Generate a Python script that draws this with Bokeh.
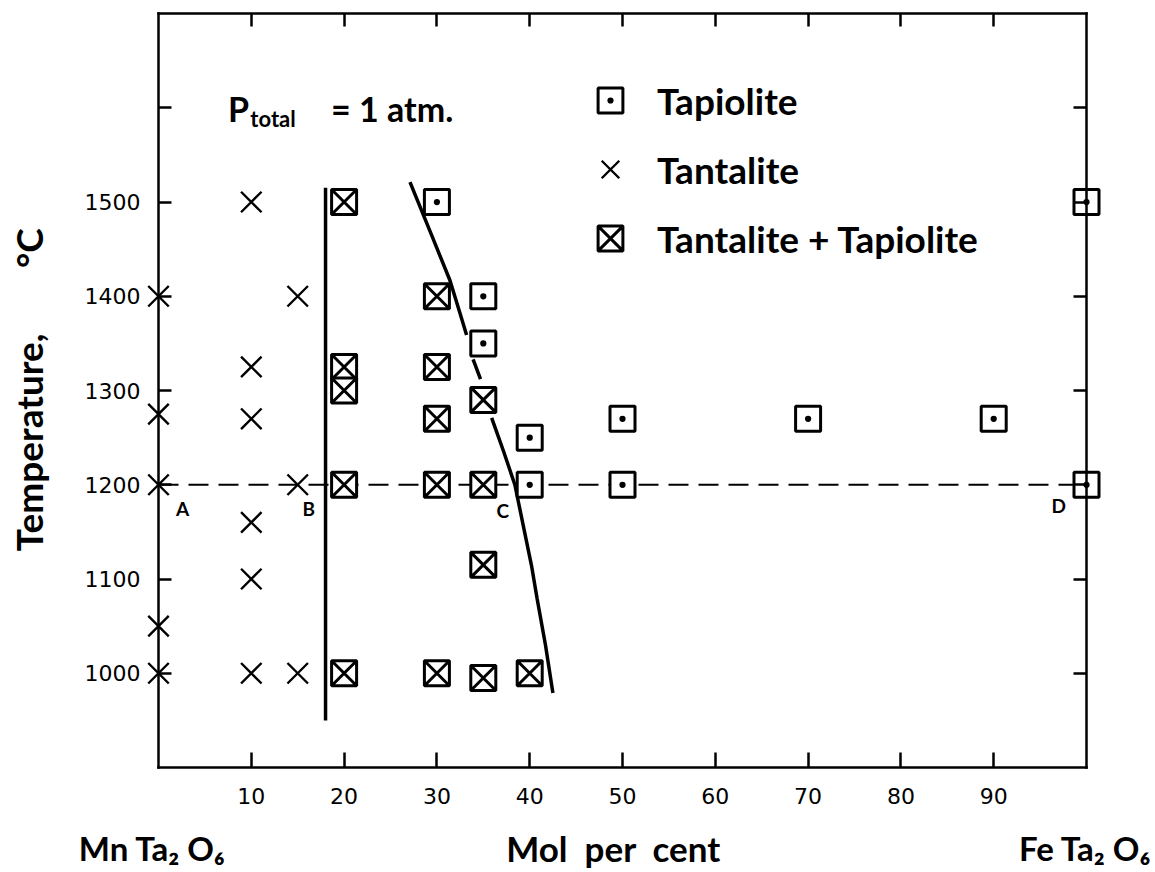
import math
from bokeh.plotting import figure
from bokeh.models import Range1d, LinearAxis, FixedTicker, Label, Legend, LegendItem
from bokeh.embed import file_html
from bokeh.resources import INLINE

FONT = "Lato"
TICK_FONT = "DejaVu Sans"
nan = float("nan")

# ---- data ----
tantalite_x = [0, 0, 0, 0, 0, 10, 10, 10, 10, 10, 10, 15, 15, 15]
tantalite_y = [1400, 1275, 1200, 1050, 1000, 1500, 1325, 1270, 1160, 1100, 1000, 1400, 1200, 1000]

tapiolite_x = [30, 35, 35, 40, 40, 50, 50, 70, 90, 100, 100]
tapiolite_y = [1500, 1400, 1350, 1250, 1200, 1270, 1200, 1270, 1270, 1500, 1200]

mixed_x = [20, 20, 20, 20, 20, 30, 30, 30, 30, 30, 35, 35, 35, 35, 40]
mixed_y = [1500, 1325, 1300, 1200, 1000, 1400, 1325, 1270, 1200, 1000, 1290, 1200, 1115, 995, 1000]

boundary_b_x = [18, 18]
boundary_b_y = [950, 1515]

boundary_c_x = [27.1, 29.3, 31.4, 32.3, 33.2, nan, 33.9, 34.7, nan, 35.9, 37.2, 38.4, 40.2, 40.8, 41.7, 42.5]
boundary_c_y = [1521, 1468, 1417, 1388, 1359, nan, 1333, 1312, nan, 1271, 1235, 1200, 1114, 1079, 1030, 979]

isotherm_x = [0, 99]
isotherm_y = [1200, 1200]

point_names = ["A", "B", "C", "D"]
point_x = [2.6, 16.2, 37.1, 97.0]
point_y = [1175, 1175, 1173, 1178]

x_ticks = [10, 20, 30, 40, 50, 60, 70, 80, 90]
y_ticks = [1000, 1100, 1200, 1300, 1400, 1500, 1600]
y_tick_labels = {1000: "1000", 1100: "1100", 1200: "1200", 1300: "1300", 1400: "1400", 1500: "1500", 1600: ""}

X_MIN, X_MAX = 0, 100
Y_MIN, Y_MAX = 900, 1700

# canvas covers the whole window; the diagram box is drawn by four bounded axes
W, H = 1155, 872
p = figure(width=W, height=H,
           x_range=Range1d(-158 / 9.28, (W - 158) / 9.28),
           y_range=Range1d(1700 - (H - 13) / 0.9425, 1700 + 13 / 0.9425),
           output_backend="svg", toolbar_location=None,
           x_axis_location=None, y_axis_location=None,
           min_border_left=0, min_border_right=0, min_border_top=0, min_border_bottom=0)
p.outline_line_color = None
p.background_fill_color = "white"
p.border_fill_color = "white"
for g in p.grid:
    g.visible = False


def make_axis(ticks, show_labels, loc, bounds, tick_len, overrides=None):
    ax = LinearAxis(ticker=FixedTicker(ticks=ticks), fixed_location=loc, bounds=bounds)
    ax.major_tick_in = tick_len
    ax.major_tick_out = 0
    ax.minor_tick_in = 0
    ax.minor_tick_out = 0
    ax.axis_line_width = 2.5
    ax.axis_line_color = "black"
    ax.axis_line_cap = "square"
    ax.major_tick_line_width = 2.5
    ax.major_tick_line_color = "black"
    ax.major_label_text_font = TICK_FONT
    ax.major_label_text_font_size = "22px"
    ax.major_label_text_color = "black"
    if show_labels:
        if overrides:
            ax.major_label_overrides = overrides
    else:
        ax.major_label_overrides = {t: "" for t in ticks}
        ax.major_label_text_font_size = "0px"
    return ax


ax_b = make_axis(x_ticks, True, Y_MIN, (X_MIN, X_MAX), 15)
ax_b.major_label_standoff = 20
p.add_layout(ax_b, "below")
p.add_layout(make_axis(x_ticks, False, Y_MAX, (X_MIN, X_MAX), 13), "above")
ax_l = make_axis(y_ticks, True, X_MIN, (Y_MIN, Y_MAX), 13, y_tick_labels)
ax_l.major_label_standoff = 18
p.add_layout(ax_l, "left")
p.add_layout(make_axis(y_ticks, False, X_MAX, (Y_MIN, Y_MAX), 13), "right")

# 1200 C isotherm
p.line(isotherm_x, isotherm_y, line_color="black", line_width=2, line_dash="20 10")

# phase boundaries
p.line(boundary_b_x, boundary_b_y, line_color="black", line_width=3.5)
p.line(boundary_c_x, boundary_c_y, line_color="black", line_width=3.5)

r_tap = p.scatter(tapiolite_x, tapiolite_y, marker="square_dot", size=25, line_width=3,
                  line_color="black", fill_color="white")
r_tan = p.scatter(tantalite_x, tantalite_y, marker="x", size=29, line_width=2.4,
                  line_color="black")
r_mix = p.scatter(mixed_x, mixed_y, marker="square_x", size=25, line_width=3,
                  line_color="black", fill_color="white")

legend = Legend(items=[LegendItem(label="Tapiolite", renderers=[r_tap]),
                       LegendItem(label="Tantalite", renderers=[r_tan]),
                       LegendItem(label="Tantalite + Tapiolite", renderers=[r_mix])],
                location=(579, H - 269), glyph_width=62, glyph_height=62, spacing=7,
                padding=0, margin=0, label_standoff=16,
                border_line_color=None, background_fill_alpha=0,
                label_text_font=FONT, label_text_font_size="37px",
                label_text_font_style="bold", label_text_color="black")
p.add_layout(legend)

TXT = dict(text_font=FONT, text_font_style="bold", text_color="black")

# pressure note
p.add_layout(Label(x=7.5, y=1599, text="P", text_font_size="34px", text_baseline="alphabetic", **TXT))
p.add_layout(Label(x=9.9, y=1589, text="total", text_font_size="22px", text_baseline="alphabetic", **TXT))
p.add_layout(Label(x=18.6, y=1599, text="= 1 atm.", text_font_size="34px", text_baseline="alphabetic", **TXT))

# A B C D
for name, xx, yy in zip(point_names, point_x, point_y):
    p.add_layout(Label(x=xx, y=yy, text=name, text_font_size="19px",
                       text_align="center", text_baseline="middle", **TXT))

# y axis title
p.add_layout(Label(x=-14.0, y=1245, text="Temperature,", angle=math.pi / 2,
                   text_font_size="37px", text_align="center", text_baseline="middle", **TXT))
p.add_layout(Label(x=-14.0, y=1451, text="°C", angle=math.pi / 2,
                   text_font_size="37px", text_align="center", text_baseline="middle", **TXT))

# bottom texts
p.add_layout(Label(x=-8.6, y=815, text="Mn Ta₂ O₆", text_font_size="33px",
                   text_align="left", text_baseline="middle", **TXT))
p.add_layout(Label(x=49.0, y=815, text="Mol\u00a0\u00a0per\u00a0\u00a0cent", text_font_size="35px",
                   text_align="center", text_baseline="middle", **TXT))
p.add_layout(Label(x=107.0, y=815, text="Fe Ta₂ O₆", text_font_size="33px",
                   text_align="right", text_baseline="middle", **TXT))

open("out.html", "w").write(file_html(p, INLINE))
